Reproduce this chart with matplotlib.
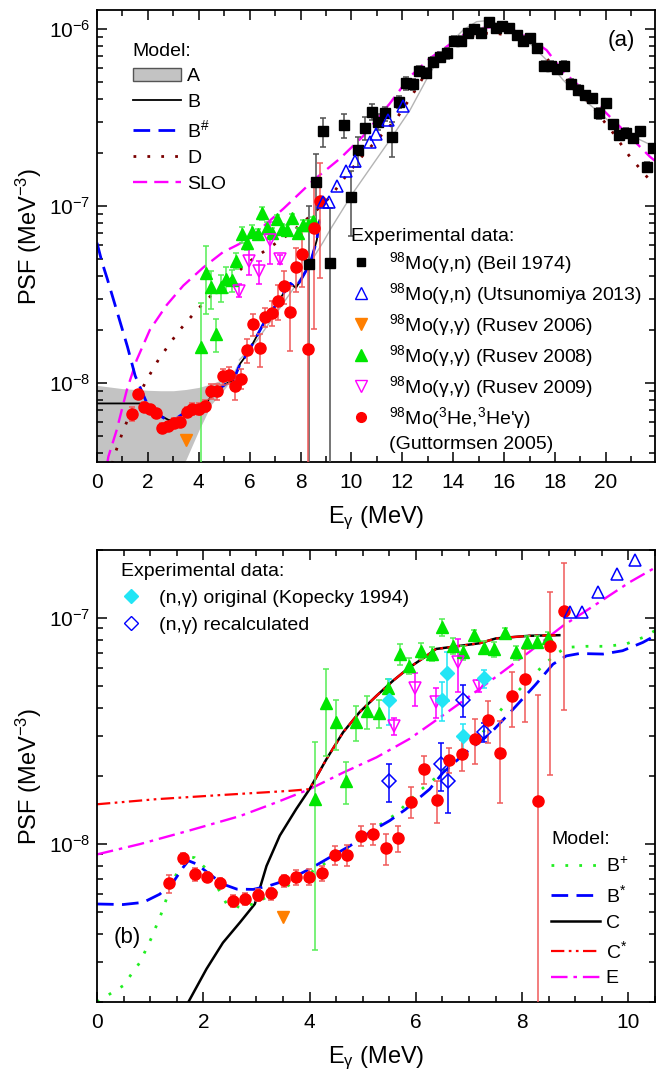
import numpy as np
import matplotlib
matplotlib.use("Agg")
import matplotlib.pyplot as plt
from matplotlib.lines import Line2D
from matplotlib.patches import Patch
from matplotlib.ticker import MultipleLocator, LogLocator, NullFormatter, FixedLocator

plt.rcParams['font.family'] = ['Liberation Sans', 'DejaVu Sans']
plt.rcParams['mathtext.fontset'] = 'custom'
plt.rcParams['mathtext.rm'] = 'Liberation Sans'
plt.rcParams['mathtext.it'] = 'Liberation Sans:italic'
plt.rcParams['mathtext.bf'] = 'Liberation Sans:bold'
plt.rcParams['mathtext.sf'] = 'Liberation Sans'

# ---------------- data: experimental ----------------
# Beil 1974 (gamma,n)
beil_x = [8.34, 8.62, 8.89, 9.14, 9.71, 9.97, 10.24, 10.52, 10.79, 11.05, 11.33, 11.59, 11.88, 12.14,
          12.40, 12.66, 12.95, 13.21, 13.48, 13.74, 14.03, 14.29, 14.57, 14.83, 15.11, 15.40, 15.67,
          15.93, 16.20, 16.49, 16.75, 17.01, 17.28, 17.56, 17.83, 18.09, 18.35, 18.62, 18.91, 19.17,
          19.46, 19.72, 20.00, 20.26, 20.52, 20.79, 21.07, 21.34, 21.62, 21.86]
beil_y = [0.47e-7, 1.37e-7, 2.65e-7, 0.474e-7, 2.87e-7, 1.13e-7, 2.07e-7, 2.77e-7, 3.41e-7, 3.0e-7,
          3.34e-7, 2.44e-7, 3.88e-7, 4.93e-7, 4.87e-7, 5.8e-7, 5.67e-7, 6.54e-7, 6.97e-7, 7.29e-7,
          8.56e-7, 8.56e-7, 9.46e-7, 10.0e-7, 9.53e-7, 10.9e-7, 10.1e-7, 10.4e-7, 10.1e-7, 9.25e-7,
          8.6e-7, 8.93e-7, 7.78e-7, 6.22e-7, 6.22e-7, 5.94e-7, 6.22e-7, 4.89e-7, 4.52e-7, 4.23e-7,
          4.06e-7, 3.34e-7, 3.8e-7, 2.9e-7, 2.52e-7, 2.6e-7, 2.41e-7, 2.65e-7, 1.67e-7, 2.13e-7]
beil_err = [0.53e-7, 0.6e-7, 0.5e-7, 0.5e-7, 0.45e-7, 0.45e-7, 0.4e-7, 0.4e-7, 0.35e-7, 0.3e-7,
            0.3e-7, 0.55e-7, 0.3e-7, 0.4e-7, 0.35e-7, 0.35e-7, 0.35e-7, 0.4e-7, 0.45e-7, 0.5e-7,
            0.55e-7, 0.55e-7, 0.6e-7, 0.6e-7, 0.6e-7, 0.6e-7, 0.6e-7, 0.6e-7, 0.6e-7, 0.55e-7,
            0.5e-7, 0.5e-7, 0.45e-7, 0.4e-7, 0.4e-7, 0.35e-7, 0.35e-7, 0.3e-7, 0.28e-7, 0.25e-7,
            0.25e-7, 0.22e-7, 0.22e-7, 0.18e-7, 0.15e-7, 0.15e-7, 0.14e-7, 0.14e-7, 0.1e-7, 0.1e-7]

# Utsunomiya 2013 (gamma,n)
uts_x = [8.90, 9.12, 9.43, 9.79, 10.13, 10.73, 10.95, 11.45, 12.01]
uts_y = [1.06e-7, 1.06e-7, 1.30e-7, 1.57e-7, 1.80e-7, 2.30e-7, 2.54e-7, 3.05e-7, 3.67e-7]

# Rusev 2006 (gamma,gamma)
r06_x = [3.50]
r06_y = [4.76e-9]

# Rusev 2008 (gamma,gamma)
r08_x = [4.10, 4.30, 4.49, 4.69, 4.88, 5.09, 5.30, 5.48, 5.70, 5.88, 6.09, 6.31, 6.50, 6.70,
         6.89, 7.09, 7.28, 7.48, 7.68, 7.89, 8.09, 8.28, 8.48]
r08_y = [1.59e-8, 4.2e-8, 3.47e-8, 1.9e-8, 3.47e-8, 3.89e-8, 3.8e-8, 4.9e-8, 6.93e-8, 6.15e-8,
         7.17e-8, 6.93e-8, 9.1e-8, 7.53e-8, 7.05e-8, 8.4e-8, 7.4e-8, 7.3e-8, 8.55e-8, 7.05e-8,
         7.8e-8, 7.85e-8, 8.2e-8]
r08_err = [1.25e-8, 1.75e-8, 0.85e-8, 0.4e-8, 0.6e-8, 0.65e-8, 0.55e-8, 0.5e-8, 0.72e-8, 0.5e-8,
           0.6e-8, 0.5e-8, 0.8e-8, 0.6e-8, 0.5e-8, 0.5e-8, 0.5e-8, 0.55e-8, 0.5e-8, 0.5e-8,
           0.5e-8, 0.5e-8, 0.5e-8]

# Rusev 2009 (gamma,gamma)
r09_x = [5.59, 5.99, 6.37, 6.79, 7.18]
r09_y = [3.33e-8, 4.89e-8, 4.27e-8, 6.4e-8, 5.0e-8]
r09_err = [0.28e-8, 0.8e-8, 0.65e-8, 1.7e-8, 0.3e-8]

# Guttormsen 2005 (3He,3He'gamma)
gut_x = [1.36, 1.61, 1.84, 2.07, 2.32, 2.56, 2.79, 3.03, 3.27, 3.52, 3.75, 3.99, 4.24, 4.47,
         4.70, 4.96, 5.19, 5.43, 5.67, 5.90, 6.15, 6.39, 6.62, 6.87, 7.11, 7.35, 7.58, 7.81,
         8.06, 8.30, 8.53, 8.78]
gut_y = [6.7e-9, 8.67e-9, 7.35e-9, 7.16e-9, 6.74e-9, 5.6e-9, 5.7e-9, 5.98e-9, 6.05e-9, 6.9e-9,
         7.15e-9, 7.17e-9, 7.44e-9, 8.97e-9, 8.97e-9, 1.09e-8, 1.11e-8, 9.57e-9, 1.06e-8, 1.54e-8,
         2.15e-8, 1.57e-8, 2.36e-8, 2.5e-8, 2.92e-8, 3.55e-8, 2.52e-8, 4.53e-8, 5.37e-8, 1.55e-8,
         7.53e-8, 1.07e-7]
gut_err = [0.6e-9, 0.47e-9, 0.5e-9, 0.4e-9, 0.36e-9, 0.35e-9, 0.35e-9, 0.37e-9, 0.37e-9, 0.42e-9,
           0.55e-9, 0.55e-9, 0.55e-9, 0.85e-9, 0.95e-9, 1.1e-9, 1.2e-9, 1.5e-9, 1.4e-9, 2.4e-9,
           3.0e-9, 3.3e-9, 3.0e-9, 4.0e-9, 6.5e-9, 7.5e-9, 1.0e-8, 1.25e-8, 1.9e-8, 3.0e-8,
           5.5e-8, 6.8e-8]

# Kopecky 1994 (n,gamma) original and recalculated
kop_x = [5.50, 6.49, 6.59, 6.89, 7.28]
kop_y = [4.36e-8, 4.36e-8, 5.71e-8, 3.0e-8, 5.41e-8]
kop_err = [1.0e-8, 0.85e-8, 1.4e-8, 0.4e-8, 0.5e-8]
rec_x = [5.50, 6.48, 6.60, 6.89, 7.28]
rec_y = [1.9e-8, 2.26e-8, 1.9e-8, 4.34e-8, 3.12e-8]
rec_err = [0.37e-8, 0.55e-8, 0.53e-8, 0.7e-8, 0.3e-8]

# ---------------- data: models, panel (a) ----------------
A_x = [0.0, 0.5, 1.0, 1.5, 2.0, 2.5, 3.0, 3.5, 4.0, 4.5, 5.0, 5.3, 5.6]
A_hi = [9.7e-9, 9.5e-9, 9.3e-9, 9.2e-9, 9.1e-9, 9.05e-9, 9.05e-9, 9.2e-9, 9.45e-9, 9.9e-9,
        1.06e-8, 1.12e-8, 1.35e-8]
A_lo = [1.0e-9, 1.0e-9, 1.2e-9, 1.5e-9, 1.9e-9, 2.3e-9, 2.8e-9, 3.7e-9, 5.4e-9, 7.6e-9,
        9.2e-9, 1.05e-8, 1.35e-8]

B_x = [0.0, 1.70, 2.10, 2.82, 3.10, 3.41, 3.93, 4.32, 4.72, 5.11, 5.37, 5.63, 5.83, 6.16, 6.55,
       6.94, 7.33, 7.60, 7.82, 8.05, 8.38, 8.64, 8.74]
B_y = [7.67e-9, 7.67e-9, 7.03e-9, 6.18e-9, 6.2e-9, 6.75e-9, 7.2e-9, 7.85e-9, 9.14e-9, 9.97e-9,
       1.04e-8, 1.29e-8, 1.41e-8, 1.71e-8, 2.17e-8, 2.64e-8, 3.21e-8, 3.66e-8, 3.45e-8, 3.91e-8,
       4.74e-8, 6.43e-8, 8.3e-8]

Bh_x = [0.0, 0.2, 0.4, 0.8, 1.2, 1.5, 1.96, 2.29, 2.62, 3.0, 3.21, 3.41, 3.93, 4.32, 4.72, 5.11,
        5.37, 5.63, 5.83, 6.16, 6.55, 6.94, 7.33, 7.60, 7.82, 8.05, 8.38, 8.64, 8.74]
Bh_y = [6.2e-8, 4.8e-8, 3.9e-8, 2.5e-8, 1.6e-8, 1.1e-8, 7.7e-9, 6.8e-9, 6.35e-9, 6.05e-9,
        6.45e-9, 6.75e-9, 7.2e-9, 7.85e-9, 9.14e-9, 9.97e-9, 1.04e-8, 1.29e-8, 1.41e-8, 1.71e-8,
        2.17e-8, 2.64e-8, 3.21e-8, 3.66e-8, 3.45e-8, 3.91e-8, 4.74e-8, 6.43e-8, 8.3e-8]

D_x = [0.60, 0.71, 1.03, 1.43, 1.95, 2.41, 2.87, 3.26, 3.92, 4.57, 5.23, 5.88, 6.74, 7.58, 8.51,
       9.17, 9.82, 10.47, 11.25, 11.78, 12.43, 13.08, 13.74, 14.39, 15.05, 15.70, 16.36, 17.01,
       17.67, 18.32, 18.98, 19.63, 20.29, 20.94, 21.60, 21.93]
D_y = [3.5e-9, 4.0e-9, 5.4e-9, 7.4e-9, 1.04e-8, 1.35e-8, 1.68e-8, 2.0e-8, 2.58e-8, 3.21e-8,
       3.82e-8, 4.74e-8, 5.77e-8, 7.0e-8, 9.1e-8, 1.13e-7, 1.5e-7, 1.95e-7, 2.58e-7, 3.13e-7,
       4.33e-7, 6.13e-7, 7.6e-7, 8.85e-7, 9.46e-7, 9.46e-7, 9.06e-7, 7.95e-7, 6.83e-7, 5.38e-7,
       4.43e-7, 3.41e-7, 2.58e-7, 1.9e-7, 1.47e-7, 1.3e-7]

SLO_x = [0.40, 0.45, 0.77, 1.17, 1.56, 2.08, 2.74, 3.39, 4.18, 4.96, 5.49, 6.02, 7.34, 8.51,
         9.56, 10.48, 11.51, 12.30, 13.08, 13.74, 14.39, 15.05, 15.70, 16.36, 17.01, 17.67,
         18.32, 18.98, 19.63, 20.29, 20.94, 21.73, 21.93]
SLO_y = [3.5e-9, 3.85e-9, 5.4e-9, 9.1e-9, 1.35e-8, 2.0e-8, 2.76e-8, 3.55e-8, 4.5e-8, 5.5e-8,
         6.0e-8, 6.6e-8, 9.7e-8, 1.4e-7, 1.86e-7, 2.5e-7, 3.8e-7, 5.38e-7, 6.83e-7, 7.95e-7,
         9.25e-7, 1.01e-6, 1.03e-6, 9.87e-7, 8.85e-7, 7.6e-7, 5.74e-7, 4.73e-7, 3.8e-7, 3.06e-7,
         2.47e-7, 1.9e-7, 1.8e-7]

Lor_x = [5.6, 6.3, 7.3, 8.0, 8.9, 9.2, 10.05, 10.73, 11.51, 12.30, 13.08, 13.74, 14.39, 14.92,
         15.44, 15.96, 16.49, 17.01, 17.67, 18.32, 18.98, 19.63, 20.29, 20.94, 21.93]
Lor_y = [1.35e-8, 1.75e-8, 2.8e-8, 3.9e-8, 6.3e-8, 7.5e-8, 1.18e-7, 1.63e-7, 2.36e-7, 3.48e-7,
         5.62e-7, 7.95e-7, 9.87e-7, 1.1e-6, 1.12e-6, 1.03e-6, 9.25e-7, 8.3e-7, 6.68e-7, 5.15e-7,
         4.15e-7, 3.48e-7, 2.87e-7, 2.52e-7, 2.16e-7]

# ---------------- data: models, panel (b) ----------------
Bp_x = [0.0, 0.49, 0.81, 1.03, 1.22, 1.37, 1.56, 1.72, 1.84, 2.06, 2.25, 2.44, 2.69, 2.94, 3.19,
        3.44, 3.75, 4.13, 4.50, 4.88, 5.19, 5.63, 6.07, 6.38, 6.89, 7.26, 7.64, 8.01, 8.39, 8.64,
        8.83, 9.20, 9.58, 9.95, 10.27, 10.5]
Bp_y = [2.0e-9, 2.36e-9, 3.0e-9, 3.87e-9, 4.99e-9, 6.32e-9, 8.0e-9, 8.8e-9, 8.7e-9, 7.75e-9,
        6.54e-9, 5.43e-9, 5.25e-9, 5.43e-9, 5.81e-9, 6.22e-9, 6.89e-9, 7.75e-9, 8.87e-9, 1.02e-8,
        1.16e-8, 1.36e-8, 1.72e-8, 1.97e-8, 2.59e-8, 3.12e-8, 4.03e-8, 5.0e-8, 6.15e-8, 6.93e-8,
        7.42e-8, 7.5e-8, 7.5e-8, 7.67e-8, 8.2e-8, 8.8e-8]

Bs_x = [0.0, 0.49, 0.87, 1.18, 1.43, 1.62, 1.72, 1.87, 2.12, 2.37, 2.63, 2.94, 3.25, 3.63, 4.0,
        4.38, 4.76, 5.19, 5.51, 5.80, 6.26, 6.51, 6.95, 7.39, 7.83, 8.26, 8.58, 8.83, 9.08, 9.52,
        9.89, 10.27, 10.5]
Bs_y = [5.43e-9, 5.4e-9, 5.52e-9, 6.0e-9, 6.76e-9, 7.88e-9, 8.44e-9, 8.17e-9, 7.36e-9, 6.65e-9,
        6.32e-9, 6.3e-9, 6.55e-9, 7.0e-9, 7.75e-9, 8.73e-9, 9.82e-9, 1.15e-8, 1.27e-8, 1.42e-8,
        1.75e-8, 2.07e-8, 2.55e-8, 3.07e-8, 3.95e-8, 5.1e-8, 6.25e-8, 6.8e-8, 6.97e-8, 6.93e-8,
        7.17e-8, 7.8e-8, 8.35e-8]

C_x = [1.72, 2.06, 2.37, 2.69, 2.97, 3.06, 3.19, 3.44, 3.75, 4.0, 4.32, 4.63, 4.94, 5.26, 5.57,
       5.88, 6.20, 6.38, 6.82, 7.20, 7.51, 8.14, 8.70]
C_y = [2.0e-9, 2.8e-9, 3.66e-9, 4.5e-9, 5.43e-9, 6.32e-9, 8.0e-9, 1.09e-8, 1.43e-8, 1.75e-8,
       2.38e-8, 3.12e-8, 3.83e-8, 4.53e-8, 5.28e-8, 6.05e-8, 6.8e-8, 7.3e-8, 7.53e-8, 7.74e-8,
       8.13e-8, 8.35e-8, 8.4e-8]

Cs_x = [0.0, 1.12, 2.37, 3.63, 4.0, 4.32, 4.63, 4.94, 5.26, 5.57, 5.88, 6.20, 6.38, 6.82, 7.20,
        7.51, 8.14, 8.70]
Cs_y = [1.5e-8, 1.58e-8, 1.65e-8, 1.72e-8, 1.75e-8, 2.38e-8, 3.12e-8, 3.83e-8, 4.53e-8, 5.28e-8,
        6.05e-8, 6.8e-8, 7.3e-8, 7.53e-8, 7.74e-8, 8.13e-8, 8.35e-8, 8.4e-8]

E_x = [0.0, 0.81, 1.75, 2.69, 3.38, 4.0, 4.63, 5.26, 5.88, 6.32, 6.89, 7.51, 8.14, 8.77, 9.39,
       10.02, 10.5]
E_y = [9.0e-9, 1.0e-8, 1.15e-8, 1.33e-8, 1.53e-8, 1.75e-8, 2.07e-8, 2.42e-8, 2.92e-8, 3.45e-8,
       4.3e-8, 5.5e-8, 7.1e-8, 9.25e-8, 1.15e-7, 1.44e-7, 1.67e-7]

# ---------------- styles ----------------
RED, REDBAR = '#ff0000', '#f05a5a'
GREEN, GREENBAR = '#00e600', '#55ee55'
MAG = '#ff00ff'
ORANGE = '#ff7f00'
CYAN = '#22e5f5'
BLUE = '#0000ff'
DRED = '#7a0000'
FS = 14

fig = plt.figure(figsize=(6.67, 10.8), dpi=100)
axA = fig.add_axes([0.1454, 0.5722, 0.8366, 0.4185])
axB = fig.add_axes([0.1454, 0.0722, 0.8366, 0.4185])

def style_axis(ax, xmax, xmaj, xmin, ylo, yhi):
    ax.set_yscale('log')
    ax.set_xlim(0, xmax)
    ax.set_ylim(ylo, yhi)
    ax.xaxis.set_major_locator(MultipleLocator(xmaj))
    ax.xaxis.set_minor_locator(MultipleLocator(xmin))
    kmin, kmax = int(np.ceil(np.log10(ylo))), int(np.floor(np.log10(yhi)))
    ax.yaxis.set_major_locator(FixedLocator([10.0 ** k for k in range(kmin, kmax + 1)]))
    ax.yaxis.set_minor_locator(LogLocator(base=10, subs=np.arange(2, 10), numticks=20))
    ax.yaxis.set_minor_formatter(NullFormatter())
    ax.tick_params(which='both', direction='in', top=True, right=True, labelsize=15, width=1.1)
    ax.tick_params(which='major', length=7)
    ax.tick_params(which='minor', length=4)
    ax.tick_params(axis='x', which='major', pad=8)
    ax.tick_params(axis='y', which='major', pad=5)
    for s in ax.spines.values():
        s.set_linewidth(1.3)
    ax.set_ylabel('PSF (MeV$^{-3}$)', fontsize=17, labelpad=3)
    ax.set_xlabel(r'E$_{\mathrm{\gamma}}$ (MeV)', fontsize=17, labelpad=9)

def eb(ax, x, y, err, **kw):
    ax.errorbar(x, y, yerr=err, linestyle='none', capsize=2.2, elinewidth=1.1, capthick=1.1,
                zorder=4, **kw)

# ================= panel (a) =================
ax = axA
ax.fill_between(A_x, A_lo, A_hi, color='#c3c3c3', linewidth=0, zorder=1)
ax.plot(Lor_x, Lor_y, color='#b4b4b4', lw=1.0, zorder=1.5)
ax.plot(SLO_x, SLO_y, color=MAG, lw=1.7, linestyle=(0, (6, 3)), zorder=2)
ax.plot(D_x, D_y, color=DRED, lw=2.0, linestyle=(0, (1, 4)), zorder=2)
ax.plot(B_x, B_y, color='black', lw=1.3, zorder=2)
ax.plot(Bh_x, Bh_y, color=BLUE, lw=2.0, linestyle=(0, (6, 3)), zorder=2.1)

eb(ax, beil_x, beil_y, beil_err, marker='s', ms=6.5, color='black', ecolor='#505050')
ax.plot(uts_x, uts_y, '^', ms=8, mfc='none', mec=BLUE, mew=1.1, zorder=5)
ax.plot(r06_x, r06_y, 'v', ms=9, color=ORANGE, zorder=5)
eb(ax, r08_x, r08_y, r08_err, marker='^', ms=8, color=GREEN, ecolor=GREENBAR)
eb(ax, r09_x, r09_y, r09_err, marker='v', ms=8.5, mfc='none', mec=MAG, mew=1.1, ecolor=MAG)
eb(ax, gut_x, gut_y, gut_err, marker='o', ms=8, color=RED, ecolor=REDBAR)

style_axis(ax, 21.93, 2, 1, 3.58e-9, 1.28e-6)
ax.text(0.965, 0.955, '(a)', transform=ax.transAxes, ha='right', va='top', fontsize=16)

hA = [Patch(facecolor='#c3c3c3', edgecolor='#555555', linewidth=1.0),
      Line2D([], [], color='black', lw=1.3),
      Line2D([], [], color=BLUE, lw=2.0, linestyle=(0, (6, 3))),
      Line2D([], [], color=DRED, lw=2.0, linestyle=(0, (1, 4))),
      Line2D([], [], color=MAG, lw=1.7, linestyle=(0, (6, 3)))]
lA = ['A', 'B', 'B$^{\\#}$', 'D', 'SLO']
leg1 = ax.legend(hA, lA, loc='upper left', bbox_to_anchor=(0.05, 0.945), frameon=False,
                 fontsize=FS, title='Model:', title_fontsize=FS, alignment='left',
                 handlelength=2.5, handletextpad=0.3, labelspacing=0.42, borderaxespad=0)
ax.add_artist(leg1)

hE = [Line2D([], [], marker='s', ms=6, color='black', linestyle='none'),
      Line2D([], [], marker='^', ms=8, mfc='none', mec=BLUE, mew=1.0, linestyle='none'),
      Line2D([], [], marker='v', ms=8, color=ORANGE, linestyle='none'),
      Line2D([], [], marker='^', ms=8, color=GREEN, linestyle='none'),
      Line2D([], [], marker='v', ms=8, mfc='none', mec=MAG, mew=1.0, linestyle='none'),
      Line2D([], [], marker='o', ms=7, color=RED, linestyle='none'),
      Line2D([], [], linestyle='none')]
lE = ['$^{98}$Mo(γ,n) (Beil 1974)', '$^{98}$Mo(γ,n) (Utsunomiya 2013)',
      '$^{98}$Mo(γ,γ) (Rusev 2006)', '$^{98}$Mo(γ,γ) (Rusev 2008)',
      '$^{98}$Mo(γ,γ) (Rusev 2009)', "$^{98}$Mo($^{3}$He,$^{3}$He'γ)", '(Guttormsen 2005)']
leg2 = ax.legend(hE, lE, loc='upper left', bbox_to_anchor=(0.442, 0.535), frameon=False,
                 fontsize=FS, title='Experimental data:', title_fontsize=FS, alignment='left',
                 handlelength=1.0, handletextpad=0.95, labelspacing=0.26, borderaxespad=0)

# ================= panel (b) =================
ax = axB
ax.plot(E_x, E_y, color=MAG, lw=1.7, linestyle=(0, (7, 2.5, 1.5, 2.5)), zorder=2)
ax.plot(C_x, C_y, color='black', lw=1.8, zorder=2)
ax.plot(Cs_x, Cs_y, color='#ff0000', lw=1.6, linestyle=(0, (6, 2, 1.2, 2, 1.2, 2)), zorder=2.1)
ax.plot(Bp_x, Bp_y, color='#22ee22', lw=2.0, linestyle=(0, (1, 4)), zorder=2)
ax.plot(Bs_x, Bs_y, color=BLUE, lw=2.0, linestyle=(0, (6, 3)), zorder=2)

ax.plot(uts_x, uts_y, '^', ms=8, mfc='none', mec=BLUE, mew=1.1, zorder=5)
ax.plot(r06_x, r06_y, 'v', ms=9, color=ORANGE, zorder=5)
eb(ax, r08_x, r08_y, r08_err, marker='^', ms=8, color=GREEN, ecolor=GREENBAR)
eb(ax, r09_x, r09_y, r09_err, marker='v', ms=8.5, mfc='none', mec=MAG, mew=1.1, ecolor=MAG)
eb(ax, kop_x, kop_y, kop_err, marker='D', ms=7.5, color=CYAN, ecolor=CYAN)
eb(ax, rec_x, rec_y, rec_err, marker='D', ms=7.5, mfc='none', mec=BLUE, mew=1.1, ecolor=BLUE)
eb(ax, gut_x, gut_y, gut_err, marker='o', ms=8, color=RED, ecolor=REDBAR)

style_axis(ax, 10.5, 2, 0.5, 2.0e-9, 2.0e-7)
ax.text(0.03, 0.142, '(b)', transform=ax.transAxes, ha='left', va='center', fontsize=16)

hK = [Line2D([], [], marker='D', ms=7, color=CYAN, linestyle='none'),
      Line2D([], [], marker='D', ms=7, mfc='none', mec=BLUE, mew=1.0, linestyle='none')]
lK = ['(n,γ) original (Kopecky 1994)', '(n,γ) recalculated']
leg3 = ax.legend(hK, lK, loc='upper left', bbox_to_anchor=(0.03, 0.988), frameon=False,
                 fontsize=FS, title='Experimental data:', title_fontsize=FS, alignment='left',
                 handlelength=1.0, handletextpad=0.95, labelspacing=0.48, borderaxespad=0)
ax.add_artist(leg3)

hM = [Line2D([], [], color='#22ee22', lw=2.0, linestyle=(0, (1, 4))),
      Line2D([], [], color=BLUE, lw=2.0, linestyle=(0, (6, 3))),
      Line2D([], [], color='black', lw=1.8),
      Line2D([], [], color='#ff0000', lw=1.6, linestyle=(0, (6, 2, 1.2, 2, 1.2, 2))),
      Line2D([], [], color=MAG, lw=1.7, linestyle=(0, (7, 2.5, 1.5, 2.5)))]
lM = ['B$^{+}$', 'B$^{*}$', 'C', 'C$^{*}$', 'E']
leg4 = ax.legend(hM, lM, loc='upper left', bbox_to_anchor=(0.8, 0.395), frameon=False,
                 fontsize=FS, title='Model:', title_fontsize=FS, alignment='left',
                 handlelength=2.5, handletextpad=0.3, labelspacing=0.42, borderaxespad=0)

fig.savefig('out.png', dpi=100)
